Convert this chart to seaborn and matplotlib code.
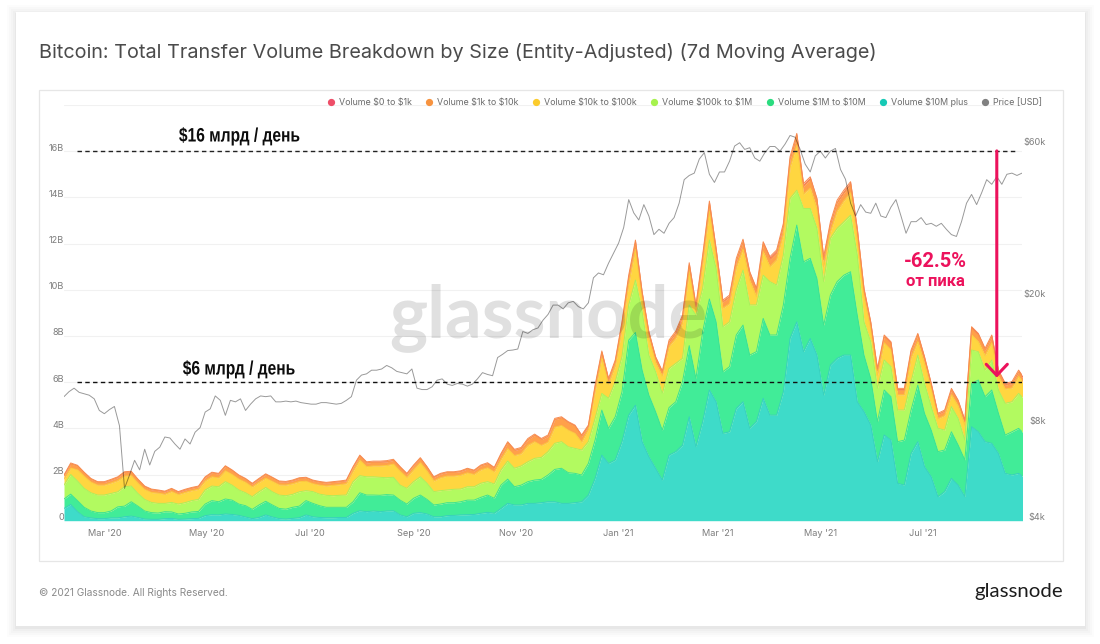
"""Bitcoin transfer volume by size, stacked, with price on a log axis."""
import matplotlib.dates as mdates
import matplotlib.patheffects as pe
import matplotlib.pyplot as plt
import numpy as np
import pandas as pd
import seaborn as sns
from matplotlib.lines import Line2D
from matplotlib.patches import Rectangle
from matplotlib.transforms import Affine2D, ScaledTranslation

# upper edge of every stacked band, in billions of USD, one value per 4 days
top_10m_plus = [
    .53, .7, .39, .17, .12, .09, .09, .12, .12, .17, .2, .14, .07, .06, .06, .09, .1, .06, .07, .09, .1, .22, .26, .25,
    .29, .27, .23, .16, .09, .14, .25, .16, .09, .07, .1, .13,
    .25, .17, .14, .13, .13, .14, .14, .32, .43, .39, .42, .39, .42, .43, .25, .17, .32, .35, .29, .17, .17, .22, .23,
    .25, .26, .27, .32, .36, .32, .53, .75, .68, .68, .75, .75, .78, .82, .82, .75, .75, .78, .82,
    1.11, 1.83, 2.84, 2.48, 2.63, 3.42, 4.57, 5.0, 3.42, 2.77, 2.27, 1.76, 2.84, 2.99, 3.27, 4.5, 3.2, 4.29, 5.66, 5.15,
    3.78, 3.85, 4.86, 5.15, 4.0, 4.29, 5.3, 4.57,
    4.57, 5.58, 7.89, 8.61, 7.32, 7.89, 7.17, 5.44, 6.74, 7.03, 7.17, 7.17, 5.15, 4.72, 4.14, 2.55,
    3.71, 3.49, 1.62, 1.54, 2.91, 3.42, 2.34, 1.9, 1.04, 1.26, 1.83, 1.54, 1.04, 4.07, 3.85, 3.42, 3.35, 2.91, 2.05,
    1.98, 2.05, 1.83,
]
top_1m_10m = [
    .94, 1.15, .87, .58, .42, .35, .35, .42, .6, .63, .82, .63, .42, .35, .33, .39, .38, .29, .32, .38, .4, .72, .87,
    .82, .94, .89, .72, .65, .49, .68, .84, .68, .53, .5, .58, .63,
    .87, .75, .65, .58, .58, .58, .58, .82, 1.21, 1.11, 1.11, 1.1, 1.13, 1.11, .89, .72, .97, 1.11, .92, .68, .72, .78,
    .78, .82, .89, .89, 1.01, 1.11, .97, 1.54, 1.8, 1.47, 1.54, 1.69, 1.76, 1.79, 1.98, 2.22, 2.27, 2.08, 2.05, 1.98,
    2.48, 3.49, 4.79, 4.0, 4.5, 5.58, 7.82, 8.15, 6.52, 5.44, 4.72, 3.92, 4.9, 5.15, 6.02, 7.58, 6.16, 8.18, 9.6, 8.61,
    6.45, 6.67, 8.04, 8.47, 7.17, 7.32, 8.76, 8.04,
    8.04, 9.34, 11.36, 12.8, 11.21, 11.36, 10.49, 8.47, 9.77, 10.35, 10.63, 10.78, 8.9, 7.17, 6.16, 4.29,
    5.66, 5.37, 3.42, 3.49, 4.79, 5.87, 4.65, 3.92, 2.99, 3.06, 3.85, 3.28, 2.63, 5.95, 6.09, 5.37, 5.66, 4.65, 3.71,
    3.85, 4.0, 3.71,
]
top_100k_1m = [
    1.54, 2.0, 1.72, 1.4, 1.21, 1.11, 1.11, 1.18, 1.25, 1.47, 1.5, 1.18, .92, .79, .75, .75, .79, .72, .78, .87, .92,
    1.33, 1.5, 1.47, 1.69, 1.54, 1.33, 1.21, 1.04, 1.25, 1.44, 1.25, 1.11, 1.08, 1.14, 1.25,
    1.3, 1.26, 1.15, 1.1, 1.08, 1.1, 1.11, 1.69, 1.95, 1.9, 1.9, 1.88, 1.86, 1.88, 1.54, 1.4, 1.69, 1.9, 1.62, 1.26,
    1.3, 1.33, 1.36, 1.37, 1.47, 1.47, 1.62, 1.69, 1.59, 2.19, 2.58, 2.27, 2.37, 2.55, 2.7, 2.74, 2.99, 3.35, 3.42, 3.2,
    3.13, 3.06,
    3.42, 4.43, 5.51, 5.3, 6.02, 7.1, 9.34, 10.42, 9.05, 7.17, 6.45, 5.51, 6.59, 6.81, 7.03, 9.34, 8.9, 10.06, 12.15,
    10.92, 8.4, 8.61, 9.99, 10.85, 9.34, 9.34, 10.63, 10.35,
    10.2, 11.5, 13.95, 14.31, 13.52, 13.52, 12.66, 10.35, 12.22, 12.66, 12.94, 13.23, 11.5, 8.61, 7.75, 5.73,
    6.96, 6.67, 4.79, 4.79, 6.02, 7.17, 5.95, 4.94, 4.0, 3.92, 4.94, 4.43, 3.49, 7.39, 7.32, 6.52, 6.96, 5.66, 5.08,
    5.15, 5.51, 5.22,
]
top_10k_100k = [
    1.8, 2.28, 2.2, 1.92, 1.67, 1.54, 1.54, 1.63, 1.73, 1.93, 1.95, 1.62, 1.35, 1.22, 1.19, 1.14, 1.26, 1.13, 1.22, 1.3,
    1.36, 1.72, 1.9, 1.85, 2.16, 2.0, 1.8, 1.66, 1.46, 1.66, 1.84, 1.7, 1.55, 1.54, 1.6, 1.69,
    1.71, 1.6, 1.54, 1.5, 1.53, 1.56, 1.6, 2.14, 2.62, 2.34, 2.37, 2.37, 2.39, 2.45, 2.14, 1.87, 2.21, 2.51, 2.14, 1.72,
    1.86, 1.93, 1.93, 1.97, 2.07, 2.0, 2.2, 2.29, 2.11, 2.65, 3.12, 2.82, 2.9, 3.26, 3.42, 3.26, 3.4, 4.05, 4.12, 3.92,
    3.78, 3.4,
    3.95, 5.6, 7.05, 5.9, 6.7, 8.3, 10.25, 11.75, 9.55, 7.9, 6.85, 6.25, 7.55, 7.9, 8.55, 10.8, 9.05, 11.1, 13.4, 11.35,
    9.2, 9.4, 10.95, 11.75, 10.4, 9.7, 11.65, 11.0,
    11.3, 12.4, 15.3, 16.25, 14.15, 14.4, 13.5, 11.0, 12.5, 13.4, 13.85, 14.2, 12.2, 9.7, 8.3, 6.3,
    7.7, 7.4, 5.45, 5.45, 7.05, 7.75, 6.8, 5.7, 4.42, 4.55, 5.45, 4.97, 4.13, 8.05, 7.75, 7.15, 7.7, 6.25, 5.7, 5.75,
    6.25, 5.82,
]
top_0_1k = [
    1.98, 2.5, 2.4, 2.1, 1.83, 1.69, 1.69, 1.79, 1.9, 2.12, 2.14, 1.8, 1.5, 1.37, 1.33, 1.28, 1.4, 1.26, 1.36, 1.44,
    1.5, 1.9, 2.1, 2.05, 2.38, 2.2, 1.98, 1.83, 1.62, 1.83, 2.03, 1.88, 1.72, 1.7, 1.76, 1.86,
    1.88, 1.76, 1.7, 1.66, 1.69, 1.72, 1.76, 2.34, 2.84, 2.55, 2.58, 2.58, 2.6, 2.66, 2.34, 2.05, 2.41, 2.73, 2.34, 1.9,
    2.05, 2.12, 2.12, 2.16, 2.27, 2.19, 2.41, 2.51, 2.31, 2.91, 3.42, 3.09, 3.17, 3.56, 3.75, 3.56, 3.71, 4.43, 4.5,
    4.29, 4.14, 3.71,
    4.14, 5.87, 7.35, 6.16, 6.96, 8.61, 10.63, 12.15, 9.91, 8.18, 7.1, 6.48, 7.82, 8.21, 8.9, 11.17, 9.34, 11.5, 13.84,
    11.79, 9.55, 9.77, 11.36, 12.19, 10.78, 10.06, 12.08, 11.43,
    11.72, 12.87, 15.76, 16.77, 14.6, 14.89, 13.95, 11.43, 12.94, 13.88, 14.31, 14.68, 12.66, 10.06, 8.61, 6.59,
    8.04, 7.75, 5.73, 5.73, 7.39, 8.11, 7.1, 5.95, 4.65, 4.79, 5.73, 5.22, 4.36, 8.4, 8.11, 7.46, 8.04, 6.52, 5.95,
    6.02, 6.52, 6.09,
]

# price in thousands of USD, one value per 3 days
price_k = [
    9.5, 9.85, 10.1, 9.8, 9.7, 9.6, 9.35, 8.6, 8.4, 8.65, 8.85, 7.7, 4.9, 5.4, 6.0, 5.6, 6.5, 5.8, 6.4, 6.6,
    7.1, 7.05, 6.75, 6.5, 7.0, 6.75, 7.35, 7.6, 8.5, 8.7, 9.55, 9.25, 8.3, 9.25, 9.15, 9.35, 8.6, 9.0, 9.35, 9.55,
    9.5, 9.55, 9.15, 9.15, 9.2, 9.15, 9.2, 9.1, 9.05, 9.0, 9.0, 9.1, 9.1, 9.05, 9.0, 9.05, 9.25, 9.5, 10.7, 11.1,
    11.2, 11.5, 11.5, 11.6, 11.9, 11.7, 11.4, 11.3, 11.2, 11.6, 10.1, 10.0, 10.0, 10.2, 10.7, 10.8, 10.4, 10.3, 10.45,
    10.4, 10.25, 10.4, 10.8, 11.3, 11.15, 11.05, 12.6, 12.9, 13.25, 13.3, 13.4, 15.2, 15.0, 15.4, 15.6, 16.5, 17.2,
    18.4, 18.4, 17.9, 18.7, 18.9, 18.2, 17.9, 18.7, 22.4, 23.2, 22.9, 24.9, 26.8, 28.8, 32.2, 39.4, 35.8, 34.0, 38.0,
    35.0, 30.6, 31.8, 30.9, 33.2, 34.6, 38.4, 45.5, 46.9, 47.7, 52.8, 55.3, 47.3, 44.6, 48.1, 48.1, 52.0, 58.0, 59.4,
    56.6, 57.3, 53.2, 52.0, 55.3, 57.8, 57.8, 55.9, 58.8, 62.6, 61.8, 56.6, 50.9, 48.1, 54.0, 55.9, 53.2, 55.9, 57.0,
    49.0, 45.6, 38.4, 35.0, 38.0, 36.0, 35.7, 38.4, 35.0, 34.6, 37.3, 39.4, 35.0, 30.9, 33.6, 33.6, 34.6, 32.9, 33.2,
    32.5, 33.2, 31.8, 30.6, 30.2, 33.6, 38.4, 40.9, 38.0, 41.4, 45.5, 44.0, 46.5, 44.0, 47.3, 47.7, 46.9, 47.7,
]

band_fill = ["#3edbc9", "#41ec98", "#b2fa60", "#ffd640", "#ffa04a", "#f4705c"]
legend_names = ["Volume \\$0 to \\$1k", "Volume \\$1k to \\$10k", "Volume \\$10k to \\$100k", "Volume \\$100k to \\$1M",
                "Volume \\$1M to \\$10M", "Volume \\$10M plus", "Price [USD]"]
legend_dots = ["#ee4e68", "#f7933f", "#fbcb2c", "#a6f24d", "#2bdc7f", "#16c9b5", "#808080"]
volume_ticks = [0, 2, 4, 6, 8, 10, 12, 14, 16]
volume_labels = ["0", "2B", "4B", "6B", "8B", "10B", "12B", "14B", "16B"]
price_ticks = [4, 8, 20, 60]
price_labels = ["\\$4k", "\\$8k", "\\$20k", "\\$60k"]
levels = [16, 6]
level_labels = ["\\$16 млрд / день", "\\$6 млрд / день"]

W, H = 1100, 644
PINK = "#ec125c"

sns.set_theme(style="white")
plt.rcParams["font.family"] = ["Inter", "DejaVu Sans"]


class Squeeze(pe.AbstractPathEffect):
    """Narrows text around a fixed pixel column, there is no condensed bold font here."""

    def __init__(self, center, factor):
        super().__init__()
        self.center, self.factor = center, factor

    def draw_path(self, renderer, gc, tpath, affine, rgbFace=None):
        squeeze = Affine2D().translate(-self.center, 0).scale(self.factor, 1).translate(self.center, 0)
        renderer.draw_path(gc, tpath, affine + squeeze, rgbFace)


def fx(px):
    return px / W


def fy(py):
    return 1 - py / H


def put_text(px, py, s, **kw):
    return fig.text(fx(px), fy(py), s, **kw)


fig = plt.figure(figsize=(W / 100, H / 100), dpi=100, facecolor="white")

# card with a soft shadow, then the chart frame
for grow, alpha in [(9, .012), (7, .014), (5, .016), (3, .02), (1, .03)]:
    fig.add_artist(Rectangle((fx(16 - grow), fy(626 + grow + 2)), (1069 + 2 * grow) / W, (614 + 2 * grow) / H,
                             transform=fig.transFigure, fc="black", ec="none", alpha=alpha, zorder=-6))
fig.add_artist(Rectangle((fx(16), fy(626)), 1069 / W, 614 / H, transform=fig.transFigure,
                         fc="white", ec="none", zorder=-5))
fig.add_artist(Rectangle((fx(39), fy(561)), 1024 / W, 471 / H, transform=fig.transFigure,
                         fc="white", ec="#e6e6e6", lw=.9, zorder=-4))

ax = fig.add_axes([fx(64), fy(520.7), 958 / W, 415.7 / H])
ax.patch.set_alpha(0)

dates = pd.date_range("2020-02-06", periods=len(top_0_1k), freq="4D")
price_dates = pd.date_range("2020-02-06", periods=len(price_k), freq="3D")

# the $1k-$10k edge sits a thin red strip under the total
strip = [.03 if t < 2.5 else .05 if t < 5 else .08 if t < 10 else .12 for t in top_0_1k]
top_1k_10k = np.array(top_0_1k) - np.array(strip)
edges = [top_10m_plus, top_1m_10m, top_100k_1m, top_10k_100k, top_1k_10k, top_0_1k]

lower = np.zeros(len(dates))
for color, edge in zip(band_fill, edges):
    ax.fill_between(dates, lower, edge, color=color, lw=0, zorder=2)
    lower = np.array(edge)

line_colors = ["#38d0be", "#3de291", "#abf05a", "#fbcc3c", "#fb9a48", "#f78a4f"]
for color, edge in zip(line_colors, edges):
    sns.lineplot(x=dates, y=edge, ax=ax, color=color, lw=.7, errorbar=None, zorder=3)

start, end = pd.Timestamp("2020-02-06"), pd.Timestamp("2021-08-29")
ax.set_xlim(start, end)
ax.set_ylim(0, 18)
ax.set_xlabel("")
ax.set_ylabel("")
ax.set_yticks(volume_ticks + [18])
ax.set_yticklabels(volume_labels + [""])
ax.yaxis.grid(True, color="#f1f1f1", lw=.8)
ax.set_axisbelow(True)
ax.xaxis.set_major_locator(mdates.MonthLocator(bymonth=[1, 3, 5, 7, 9, 11]))
ax.xaxis.set_major_formatter(mdates.DateFormatter("%b '%y"))
ax.tick_params(axis="x", length=0, pad=6, labelsize=6.6, labelcolor="#7d7d7d")
ax.tick_params(axis="y", length=0, pad=0, labelsize=6.6, labelcolor="#7d7d7d")
for label in ax.get_yticklabels():
    label.set_transform(label.get_transform() + ScaledTranslation(0, 4 / 100, fig.dpi_scale_trans))
sns.despine(ax=ax, left=True, right=True, top=True, bottom=True)

# dashed levels added on top of the original chart
ax.plot([pd.Timestamp("2020-02-14"), pd.Timestamp("2021-08-26")], [levels[0]] * 2, color="#222222", lw=1,
        dashes=(3.2, 2.4), zorder=5)
ax.plot([pd.Timestamp("2020-02-14"), end], [levels[1]] * 2, color="#111111", lw=1, dashes=(3.2, 2.4), zorder=5)

ax2 = ax.twinx()
ax2.patch.set_alpha(0)
ax2.set_yscale("log")
sns.lineplot(x=price_dates, y=price_k, ax=ax2, color="black", alpha=.4, lw=.7, errorbar=None)
ax2.set_ylim(3.88, 78)
ax2.set_xlim(start, end)
ax2.set_ylabel("")
ax2.set_yticks(price_ticks)
ax2.set_yticklabels(price_labels)
ax2.minorticks_off()
ax2.tick_params(axis="y", length=0, pad=17, labelsize=6.6, labelcolor="#7d7d7d")
for label in ax2.get_yticklabels():
    label.set_ha("right")
sns.despine(ax=ax2, left=True, right=True, top=True, bottom=True)

# drop from the peak, vertical arrow
drop_day = pd.Timestamp("2021-08-14")
ax2.annotate("", xy=(drop_day, 10.9), xytext=(drop_day, 56),
             arrowprops=dict(arrowstyle="->,head_length=.4,head_width=.38", color=PINK, lw=2.2,
                             mutation_scale=20, shrinkA=0, shrinkB=0))

# legend across the top of the plot
handles = [Line2D([], [], marker="o", ls="", ms=4.2, color=c, label=n) for n, c in zip(legend_names, legend_dots)]
fig.legend(handles=handles, loc="center right", bbox_to_anchor=(fx(1042), fy(102)), ncol=7, frameon=False,
           fontsize=6.4, labelcolor="#6b6b6b", handletextpad=-.1, columnspacing=.95, borderpad=0, borderaxespad=0)

put_text(39, 52, "Bitcoin: Total Transfer Volume Breakdown by Size (Entity-Adjusted) (7d Moving Average)",
         fontsize=14.28, color="#4b4b4b", va="center", ha="left")
put_text(39, 593, "© 2021 Glassnode. All Rights Reserved.", fontsize=7.3, color="#8a8a8a", va="center", ha="left")
put_text(1063, 592, "glassnode", fontsize=14.7, color="#1c1c1c", va="center", ha="right",
         family=["Lato", "DejaVu Sans"])
put_text(548, 318, "glassnode", fontsize=52, fontweight="bold", color="black", alpha=.12, va="center", ha="center",
         family=["Lato", "DejaVu Sans"], zorder=4)

bold_sans = ["Liberation Sans", "DejaVu Sans"]
put_text(239.5, 137, level_labels[0], fontsize=14, fontweight="bold", color="#0c0c0c", va="center", ha="center",
         family=bold_sans, path_effects=[Squeeze(239.5, .8)])
put_text(239, 370, level_labels[1], fontsize=14, fontweight="bold", color="#0c0c0c", va="center", ha="center",
         family=bold_sans, path_effects=[Squeeze(239, .8)])
put_text(935, 262, "-62.5%", fontsize=14.5, fontweight="bold", color=PINK, va="center", ha="center",
         family=["Roboto", "DejaVu Sans"])
put_text(935, 282, "от пика", fontsize=12, fontweight="bold", color=PINK, va="center", ha="center",
         family=["Roboto", "DejaVu Sans"])

fig.savefig("out.png", dpi=100)
